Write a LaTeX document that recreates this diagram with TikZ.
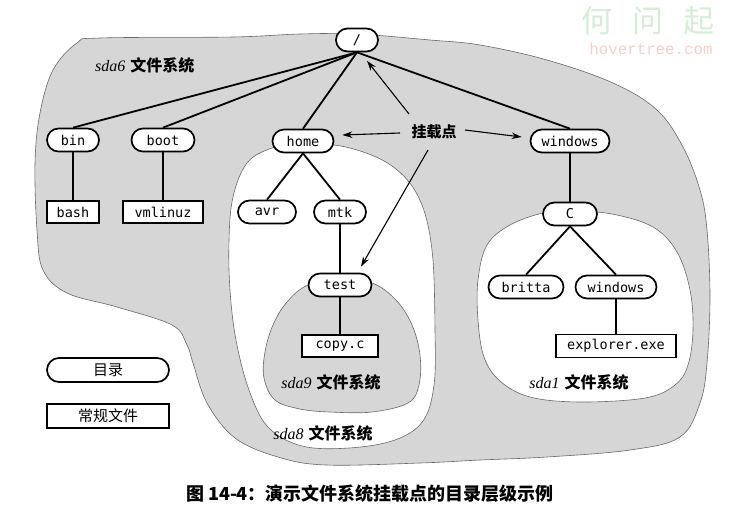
\documentclass[tikz,border=0pt]{standalone}
\usepackage{fontspec}
\setmonofont{DejaVu Sans Mono}
\newfontfamily\cjk{Noto Sans CJK SC}
\newfontfamily\tnr{Liberation Serif}
\newfontfamily\wmmono{Liberation Mono}
\usetikzlibrary{arrows.meta,calc}
\definecolor{regiongray}{RGB}{214,214,214}
\definecolor{edgegray}{RGB}{105,105,105}
\definecolor{wmgreen}{RGB}{214,237,216}
\definecolor{wmpink}{RGB}{246,208,208}
\begin{document}
\begin{tikzpicture}[x=1pt,y=-1pt,
  dirnode/.style={draw, line width=1.7pt, fill=white, rounded corners=11.5pt, minimum height=23pt, inner sep=0pt, font=\ttfamily\fontsize{13.5}{16}\selectfont},
  filenode/.style={draw, line width=1.7pt, fill=white, minimum height=22pt, inner sep=0pt, font=\ttfamily\fontsize{13.5}{16}\selectfont},
  link/.style={line width=1.8pt},
  mount/.style={line width=1.1pt, -{Stealth[length=10pt,width=6.5pt]}},
  region/.style={draw=edgegray, line width=0.6pt},
  fslabel/.style={font=\fontsize{16}{18}\selectfont, inner sep=0pt},
  cjklabel/.style={font=\cjk\bfseries\fontsize{15}{17}\selectfont, inner sep=0pt},
]
\useasboundingbox (0,0) rectangle (729,523);
\fill[white] (0,0) rectangle (729,523);

% watermark
\node[text=wmgreen, font=\cjk\fontsize{31}{33}\selectfont, inner sep=0pt] (wm1) at (648,21) {何\hspace{20pt}问\hspace{20pt}起};
\node[text=wmpink, font=\wmmono\fontsize{15.8}{18}\selectfont, inner sep=0pt] (wm2) at (651,49) {hovertree.com};

% file system regions
\filldraw[region, fill=regiongray] plot[smooth cycle, tension=0.6] coordinates {
  (100,38) (233,37) (300,34) (357,34) (430,40) (480,45) (547,60) (613,83) (657,110)
  (683,147) (700,190) (707,230) (710,297) (707,363) (700,403) (680,437) (630,450)
  (547,457) (480,460) (420,463) (326,465) (278,457) (235,438) (207,403) (193,363)
  (187,345) (172,325) (117,307) (67,293) (43,270) (37,230) (35,163) (40,113) (53,70) (77,43)};
\filldraw[region, fill=white] plot[smooth cycle, tension=0.6] coordinates {
  (303,143) (350,148) (392,166) (419,198) (432,250) (435,330) (434,385) (423,421)
  (395,440) (349,448) (302,446) (268,427) (249,390) (236,340) (230,290) (229,240)
  (233,197) (247,163) (272,148)};
\filldraw[region, fill=regiongray] plot[smooth cycle, tension=0.6] coordinates {
  (340,280) (372,283) (396,300) (412,325) (420,355) (419,385) (408,403) (372,412)
  (330,412) (300,409) (275,400) (264,378) (265,352) (273,325) (287,302) (308,285)};
\filldraw[region, fill=white] plot[smooth cycle, tension=0.6] coordinates {
  (571,211) (612,214) (653,227) (677,252) (690,290) (693,330) (688,365) (675,385)
  (645,398) (580,402) (530,397) (500,381) (484,357) (478,320) (478,280) (487,245)
  (510,225) (543,213)};

% region labels
\node[fslabel, anchor=west] (l6) at (95,65) {{\tnr\itshape sda6} {\cjk\bfseries 文件系统}};
\node[fslabel] (l9) at (331,382) {{\tnr\itshape sda9} {\cjk\bfseries 文件系统}};
\node[fslabel] (l1) at (579,382) {{\tnr\itshape sda1} {\cjk\bfseries 文件系统}};
\node[fslabel] (l8) at (323,433) {{\tnr\itshape sda8} {\cjk\bfseries 文件系统}};

% nodes
\node[dirnode, minimum width=42pt] (root) at (357,40) {/};
\node[dirnode, minimum width=52pt] (bin) at (73,140) {bin};
\node[dirnode, minimum width=63pt] (boot) at (163,140) {boot};
\node[dirnode, minimum width=61pt] (home) at (303,141) {home};
\node[dirnode, minimum width=79pt] (windows) at (570,141) {windows};
\node[filenode, minimum width=52pt] (bash) at (73,212) {bash};
\node[filenode, minimum width=80pt] (vmlinuz) at (163,212) {vmlinuz};
\node[dirnode, minimum width=58pt] (avr) at (267,212) {avr};
\node[dirnode, minimum width=52pt] (mtk) at (340,212) {mtk};
\node[dirnode, minimum width=63pt] (test) at (340,285) {test};
\node[filenode, minimum width=76pt] (copyc) at (340,346) {copy.c};
\node[dirnode, minimum width=54pt] (C) at (570,214) {C};
\node[dirnode, minimum width=75pt] (britta) at (526,287) {britta};
\node[dirnode, minimum width=81pt] (windows2) at (616,287) {windows};
\node[filenode, minimum width=120pt, minimum height=23pt] (explorer) at (616,346) {explorer.exe};

% legend
\node[dirnode, minimum width=122pt, minimum height=24pt, rounded corners=12pt, font=\cjk\fontsize{15}{17}\selectfont] (legdir) at (108,370) {目录};
\node[filenode, minimum width=122pt, minimum height=24pt, font=\cjk\fontsize{15}{17}\selectfont] (legfile) at (108,416) {常规文件};

% tree connectors
\draw[link] (root.south) -- (bin.north);
\draw[link] (root.south) -- (boot.north);
\draw[link] (root.south) -- (home.north);
\draw[link] (root.south) -- (windows.north);
\draw[link] (bin) -- (bash);
\draw[link] (boot) -- (vmlinuz);
\draw[link] (home.south) -- (avr.north);
\draw[link] (home.south) -- (mtk.north);
\draw[link] (mtk) -- (test);
\draw[link] (test) -- (copyc);
\draw[link] (windows) -- (C);
\draw[link] (C.south) -- (britta.north);
\draw[link] (C.south) -- (windows2.north);
\draw[link] (windows2) -- (explorer);

% mount points
\node[cjklabel] (lbl) at (434,132) {挂载点};
\coordinate (m1) at ($(lbl)+(-25,-18)$);
\coordinate (m2) at ($(lbl)+(-34,1)$);
\coordinate (m3) at ($(lbl)+(31,-2)$);
\coordinate (m4) at ($(lbl)+(-6,18)$);
\draw[mount] (m1) -- ($(root.south)+(10,8.5)$);
\draw[mount] (m2) -- ($(home.east)+(8,-6)$);
\draw[mount] (m3) -- ($(windows.west)+(-8,-4)$);
\draw[mount] (m4) -- ($(test.north)+(21,-6)$);

% caption
\node[font=\cjk\bfseries\fontsize{18}{20}\selectfont, inner sep=0pt] (cap) at (370,494) {图 14-4：演示文件系统挂载点的目录层级示例};
\end{tikzpicture}
\end{document}
